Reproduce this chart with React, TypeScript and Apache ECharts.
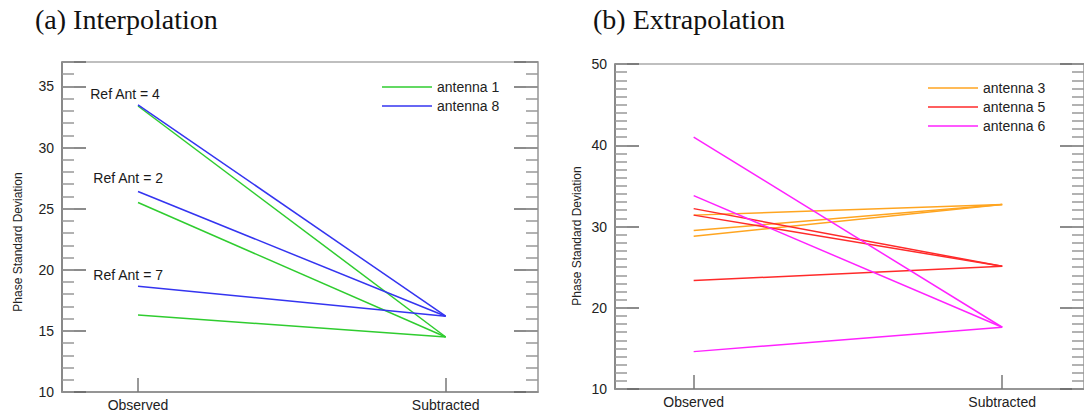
import React, { useEffect, useRef } from "react";
import * as echarts from "echarts";

// ---- data (left panel: interpolation) ----
const xCategories = ["Observed", "Subtracted"];
const antenna1Observed = [33.4, 25.5, 16.3];
const antenna1Subtracted = 14.5;
const antenna8Observed = [33.5, 26.4, 18.65];
const antenna8Subtracted = 16.2;
const refAntLabels = ["Ref Ant = 4", "Ref Ant = 2", "Ref Ant = 7"];
const refAntLabelX = [-0.042, -0.032, -0.032];
const refAntLabelY = [34.4, 27.55, 19.6];

// ---- data (right panel: extrapolation) ----
const antenna3Observed = [31.4, 29.5, 28.8];
const antenna3Subtracted = 32.7;
const antenna5Observed = [32.2, 31.4, 23.35];
const antenna5Subtracted = 25.1;
const antenna6Observed = [41.0, 33.8, 14.6];
const antenna6Subtracted = 17.6;

const leftTicks = [10, 37, 5];
const rightTicks = [10, 50, 10];

const FONT = "'Liberation Sans', Arial, Helvetica, sans-serif";

function lineSeries(name: string, color: string, obs: number[], sub: number, gi: number, yi: number) {
  return obs.map((o) => ({
    type: "line",
    name,
    xAxisIndex: gi,
    yAxisIndex: yi,
    data: [
      [0, o],
      [1, sub],
    ],
    symbol: "none",
    lineStyle: { color, width: 1.5 },
    itemStyle: { color },
    silent: true,
    z: 3,
  }));
}

function yAxes(gridIndex: number, ext: number[]) {
  const [min, max, step] = ext;
  const base = { type: "value", gridIndex, min, max, splitLine: { show: false } };
  return [
    {
      ...base,
      position: "left",
      interval: step,
      axisLine: { show: true, onZero: false, lineStyle: { color: "#777", width: 1.5 } },
      axisTick: { show: true, inside: true, length: 24, lineStyle: { color: "#666", width: 1.5 } },
      axisLabel: {
        show: true,
        margin: 8,
        color: "#222",
        fontSize: 14,
        fontFamily: FONT,
        formatter: (v: number) => (v % step === 0 ? String(v) : ""),
      },
    },
    {
      ...base,
      position: "left",
      interval: 1,
      axisLine: { show: false, onZero: false },
      axisTick: { show: true, inside: true, length: 12, lineStyle: { color: "#999", width: 1.5 } },
      axisLabel: { show: false },
    },
    {
      ...base,
      position: "right",
      interval: step,
      axisLine: { show: true, onZero: false, lineStyle: { color: "#aaa", width: 1.5 } },
      axisTick: { show: true, inside: true, length: 24, lineStyle: { color: "#666", width: 1.5 } },
      axisLabel: { show: false },
    },
    {
      ...base,
      position: "right",
      interval: 1,
      axisLine: { show: false, onZero: false },
      axisTick: { show: true, inside: true, length: 12, lineStyle: { color: "#999", width: 1.5 } },
      axisLabel: { show: false },
    },
  ];
}

function xAxis(gridIndex: number, min: number, max: number) {
  return {
    type: "value",
    gridIndex,
    min,
    max,
    position: "bottom",
    splitLine: { show: false },
    axisLine: { show: true, onZero: false, lineStyle: { color: "#888", width: 1.5 } },
    axisTick: {
      show: true,
      inside: true,
      length: 14,
      customValues: [0, 1],
      lineStyle: { color: "#777", width: 1.5 },
    },
    axisLabel: {
      show: true,
      margin: 6,
      customValues: [0, 1],
      color: "#222",
      fontSize: 14,
      fontFamily: FONT,
      formatter: (v: number) => xCategories[Math.round(v)] ?? "",
    },
  };
}

export default function App() {
  const ref = useRef<HTMLDivElement>(null);
  useEffect(() => {
    document.body.style.margin = "0";
    const chart = echarts.init(ref.current!, null, { renderer: "svg" });
    const series: any[] = [
      ...lineSeries("antenna 1", "#2fcc2f", antenna1Observed, antenna1Subtracted, 0, 0),
      ...lineSeries("antenna 8", "#3434f0", antenna8Observed, antenna8Subtracted, 0, 0),
      ...lineSeries("antenna 3", "#ffa520", antenna3Observed, antenna3Subtracted, 1, 4),
      ...lineSeries("antenna 5", "#ff2a2a", antenna5Observed, antenna5Subtracted, 1, 4),
      ...lineSeries("antenna 6", "#ff22ff", antenna6Observed, antenna6Subtracted, 1, 4),
      {
        type: "scatter",
        name: "annotations",
        xAxisIndex: 0,
        yAxisIndex: 0,
        symbolSize: 0,
        silent: true,
        itemStyle: { opacity: 1 },
        data: refAntLabels.map((t, i) => ({ name: t, value: [refAntLabelX[i], refAntLabelY[i]] })),
        label: {
          show: true,
          position: "inside",
          formatter: "{b}",
          color: "#1a1a1a",
          opacity: 1,
          textBorderWidth: 0,
          fontSize: 14,
          fontFamily: FONT,
        },
      },
    ];
    const legendCommon = {
      orient: "vertical",
      icon: "rect",
      itemWidth: 50,
      itemHeight: 1.5,
      itemGap: 3,
      selectedMode: false,
      textStyle: { color: "#222", fontSize: 14, fontFamily: FONT, lineHeight: 16 },
    };
    chart.setOption({
      animation: false,
      grid: [
        { left: 62, top: 62, width: 476, height: 330, show: true, borderColor: "#aaa", borderWidth: 1.5 },
        { left: 615, top: 64, width: 471, height: 325, show: true, borderColor: "#aaa", borderWidth: 1.5 },
      ],
      xAxis: [xAxis(0, -0.247, 1.3), xAxis(1, -0.255, 1.265)],
      yAxis: [...yAxes(0, leftTicks), ...yAxes(1, rightTicks)],
      legend: [
        { ...legendCommon, left: 377, top: 74, data: ["antenna 1", "antenna 8"] },
        { ...legendCommon, left: 923, top: 75, data: ["antenna 3", "antenna 5", "antenna 6"] },
      ],
      graphic: [
        {
          type: "text",
          left: 35,
          top: 5,
          style: { text: "(a) Interpolation", font: "28px 'Liberation Serif', 'Times New Roman', serif", fill: "#111" },
        },
        {
          type: "text",
          left: 593,
          top: 5,
          style: { text: "(b) Extrapolation", font: "28px 'Liberation Serif', 'Times New Roman', serif", fill: "#111" },
        },
        {
          type: "text",
          x: 18,
          y: 242,
          rotation: Math.PI / 2,
          style: {
            text: "Phase Standard Deviation",
            font: `12px ${FONT}`,
            fill: "#222",
            align: "center",
            verticalAlign: "middle",
          },
        },
        {
          type: "text",
          x: 577,
          y: 236,
          rotation: Math.PI / 2,
          style: {
            text: "Phase Standard Deviation",
            font: `12px ${FONT}`,
            fill: "#222",
            align: "center",
            verticalAlign: "middle",
          },
        },
      ],
      series,
    });
    return () => chart.dispose();
  }, []);
  return <div ref={ref} style={{ width: 1084, height: 418 }} />;
}
